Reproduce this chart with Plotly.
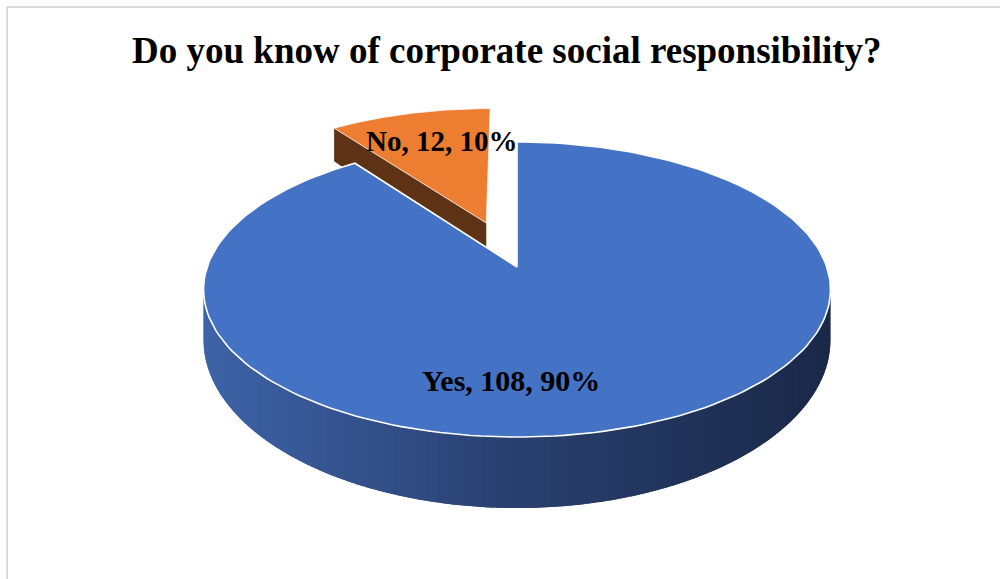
import numpy as np
import plotly.graph_objects as go

# ---- chart data ----
categories = ["Yes", "No"]
counts = [108, 12]
top_colors = ["#4472C4", "#ED7D31"]
side_colors = ["#2E4A80", "#5E3315"]
explode = [0.0, 0.337]
title_text = "Do you know of corporate social responsibility?"

# ---- projection of the tilted pie (disk coords u: right, v: away from viewer) ----
W, H = 1000, 579
X0, Y0 = 517.0, 267.0   # projected pie centre
AX, BY = 309.8, 144.1   # horizontal / vertical radius scale
K = 0.1525              # perspective strength
DEPTH, DEPTH_POW = 48.1, 2.36


def proj(u, v):
    d = 1.0 + K * v
    return X0 + AX * u / d, Y0 - BY * v / d


def depth(v):
    return DEPTH / (1.0 + K * v) ** DEPTH_POW


total = float(sum(counts))
shares = [c / total for c in counts]
starts = np.concatenate([[0.0], np.cumsum(shares)[:-1]]) * 360.0
ends = starts + np.array(shares) * 360.0


def wedge_geometry(i, n=200):
    a0, a1 = np.radians(starts[i]), np.radians(ends[i])
    mid = (a0 + a1) / 2
    ou, ov = explode[i] * np.sin(mid), explode[i] * np.cos(mid)
    th = np.linspace(a0, a1, n)
    return th, ou, ov


fig = go.Figure()


def poly(xs, ys, fill, line_color=None, line_width=0):
    fig.add_trace(go.Scatter(
        x=list(xs), y=list(ys), mode="lines", fill="toself",
        fillcolor=fill,
        line=dict(color=line_color or fill, width=line_width),
        hoverinfo="skip", showlegend=False,
    ))


def lerp_color(stops, t):
    for (t0, c0), (t1, c1) in zip(stops[:-1], stops[1:]):
        if t <= t1:
            f = (t - t0) / (t1 - t0) if t1 > t0 else 0
            c = [c0[j] + (c1[j] - c0[j]) * f for j in range(3)]
            return "rgb(%d,%d,%d)" % tuple(int(round(x)) for x in c)
    c = stops[-1][1]
    return "rgb(%d,%d,%d)" % tuple(c)


# ---- exploded "No" slice (behind) ----
i_no = 1
th, ou, ov = wedge_geometry(i_no)
cx, cy = proj(ou, ov)
# visible radial face at the start angle
u0, v0 = ou + np.sin(th[0]), ov + np.cos(th[0])
px, py = proj(u0, v0)
poly([cx, px, px, cx, cx],
     [cy, py, py + depth(v0), cy + depth(ov), cy],
     side_colors[i_no])
# top face
us, vs = ou + np.sin(th), ov + np.cos(th)
ax_, ay_ = proj(us, vs)
poly(np.concatenate([[cx], ax_, [cx]]), np.concatenate([[cy], ay_, [cy]]),
     top_colors[i_no], "rgba(255,255,255,0.7)", 1)

# ---- "Yes" slice: front wall with horizontal shading ----
i_yes = 0
th, ou, ov = wedge_geometry(i_yes)
lo = np.arccos(-K)                 # right silhouette angle
hi = 2 * np.pi - np.arccos(-K)     # left silhouette angle
n_strips = 90
wall_t = np.linspace(lo, hi, n_strips + 1)
step = wall_t[1] - wall_t[0]
xl, _ = proj(np.sin(hi), np.cos(hi))
xr, _ = proj(np.sin(lo), np.cos(lo))
shade_stops = [(0.0, (62, 99, 168)), (0.5, (40, 63, 110)), (1.0, (26, 40, 72))]
# strips run right-to-left-overlapping so seams are always covered
for j in range(n_strips):
    a = wall_t[j]
    b = min(wall_t[j + 1] + step * 0.9, hi)
    seg = np.linspace(a, b, 5)
    uu, vv = np.sin(seg), np.cos(seg)
    sx, sy = proj(uu, vv)
    by = sy + depth(vv)
    t = (np.mean(proj(np.sin(seg[:3]), np.cos(seg[:3]))[0]) - xl) / (xr - xl)
    col = lerp_color(shade_stops, t)
    poly(np.concatenate([sx, sx[::-1], sx[:1]]),
         np.concatenate([sy, by[::-1], sy[:1]]), col, col, 0)

# top face of "Yes"
cx, cy = proj(ou, ov)
us, vs = ou + np.sin(th), ov + np.cos(th)
ax_, ay_ = proj(us, vs)
poly(np.concatenate([[cx], ax_, [cx]]), np.concatenate([[cy], ay_, [cy]]),
     top_colors[i_yes], "white", 1.6)

# ---- data labels ----
label_pos = {"Yes": (511, 380), "No": (441, 141)}
label_size = {"Yes": 30, "No": 29}
annotations = []
for cat, c, s in zip(categories, counts, shares):
    lx, ly = label_pos[cat]
    annotations.append(dict(
        x=lx, y=ly, xref="x", yref="y", showarrow=False,
        text="<b>%s, %d, %d%%</b>" % (cat, c, round(s * 100)),
        font=dict(family="Liberation Serif", size=label_size[cat], color="black"),
        xanchor="center", yanchor="middle",
    ))

annotations.append(dict(
    x=507, y=50, xref="x", yref="y", showarrow=False,
    text="<b>%s</b>" % title_text,
    font=dict(family="Liberation Serif", size=37, color="black"),
    xanchor="center", yanchor="middle",
))

fig.update_layout(
    width=W, height=H, autosize=False,
    margin=dict(l=0, r=0, t=0, b=0),
    paper_bgcolor="white", plot_bgcolor="white",
    xaxis=dict(range=[0, W], visible=False, fixedrange=True),
    yaxis=dict(range=[H, 0], visible=False, fixedrange=True),
    annotations=annotations,
    shapes=[
        dict(type="line", xref="paper", yref="paper",
             x0=7 / W, x1=1, y0=1 - 7 / H, y1=1 - 7 / H,
             line=dict(color="#D9D9D9", width=2)),
        dict(type="line", xref="paper", yref="paper",
             x0=7 / W, x1=7 / W, y0=0, y1=1 - 7 / H,
             line=dict(color="#D9D9D9", width=2)),
    ],
)

fig.write_html("out.html")
